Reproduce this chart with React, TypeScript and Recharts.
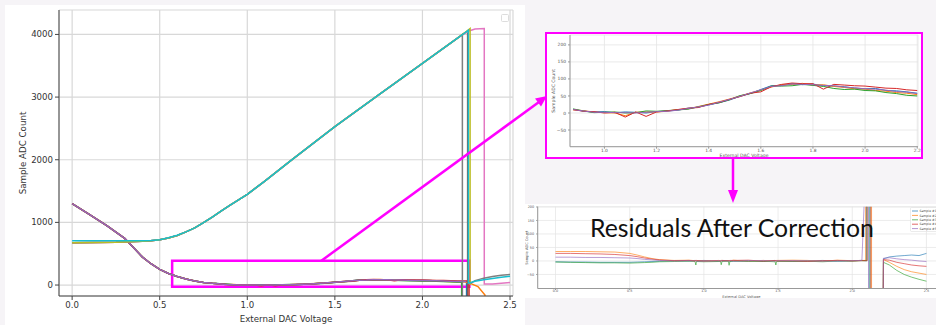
import React from 'react';
import { LineChart, Line, XAxis, YAxis, CartesianGrid, ReferenceArea, Label, Legend } from 'recharts';

const BLUE = '#1f77b4';
const ORANGE = '#ff7f0e';
const GREEN = '#2ca02c';
const RED = '#d62728';
const PURPLE = '#9467bd';
const BROWN = '#8c564b';
const PINK = '#e377c2';
const GRAY = '#7f7f7f';
const OLIVE = '#bcbd22';
const CYAN = '#17becf';
const MAGENTA = '#ff00ff';

// ---- main plot: rising ramps (shared shape up to 2.2 V)
const rampX = [0, 0.25, 0.4, 0.45, 0.5, 0.55, 0.6, 0.65, 0.7, 0.75, 0.8, 0.85, 0.9, 0.95, 1.0, 1.1, 1.25, 1.5, 1.75, 2.0, 2.2];
const rampLow = [676, 682, 700, 708, 722, 752, 792, 848, 912, 995, 1085, 1178, 1270, 1360, 1447, 1660, 1990, 2527, 3035, 3537, 3940];
const rampHigh = [706, 705, 706, 710, 724, 754, 794, 848, 912, 995, 1085, 1178, 1270, 1360, 1447, 1660, 1990, 2527, 3035, 3537, 3940];

const brownTailX = [2.25, 2.258, 2.258];
const brownTailY = [4040, 4052, -1000];
const pinkTailX = [2.25, 2.27, 2.3, 2.353, 2.353, 2.4, 2.45, 2.5];
const pinkTailY = [4030, 4060, 4088, 4094, 15, 18, 28, 40];
const grayTailX = [2.228, 2.228];
const grayTailY = [4000, -1000];
const grayAfterX = [2.27, 2.3, 2.35, 2.4, 2.45, 2.5];
const grayAfterY = [20, 70, 110, 135, 155, 170];
const oliveTailX = [2.25, 2.272, 2.272];
const oliveTailY = [4045, 4094, 0];
const cyanTailX = [2.25, 2.262, 2.262, 2.3, 2.35, 2.4, 2.45, 2.5];
const cyanTailY = [4040, 4065, 30, 60, 85, 105, 125, 140];

// ---- main plot: falling curves (shared head, per-sample detail)
const fallHeadX = [0, 0.1, 0.2, 0.3, 0.35, 0.4, 0.45, 0.5, 0.55, 0.6, 0.65, 0.7, 0.75, 0.8];
const fallHeadY = [1300, 1125, 945, 745, 600, 450, 340, 250, 185, 135, 95, 65, 42, 27];

const detailX = [0.88, 0.92, 0.96, 1.0, 1.04, 1.08, 1.12, 1.16, 1.2, 1.24, 1.28, 1.32, 1.36, 1.4, 1.44, 1.48, 1.52,
  1.56, 1.6, 1.64, 1.68, 1.72, 1.76, 1.8, 1.84, 1.88, 1.92, 1.96, 2.0, 2.04, 2.08, 2.12, 2.16, 2.2];
const blueDetail = [11, 5, 3, 4, 1, 3, 2, 0, 4, 6, 8, 14, 17, 24, 30, 38, 49, 57, 69, 80, 81, 86, 83, 85, 80, 79, 77, 73, 71, 72, 66, 65, 62, 58];
const orangeDetail = [9, 7, 2, 1, 0, -8, 2, 3, 3, 5, 10, 12, 19, 26, 33, 41, 50, 59, 67, 76, 83, 84, 87, 82, 83, 78, 75, 71, 70, 66, 64, 60, 58, 54];
const greenDetail = [12, 6, 1, 2, 3, 0, 1, 6, 5, 7, 9, 11, 18, 25, 30, 39, 51, 57, 66, 79, 79, 80, 84, 81, 78, 72, 69, 70, 66, 65, 60, 57, 52, 50];
const redDetail = [10, 5, 4, 0, 2, -12, 3, -10, 3, 6, 10, 14, 16, 25, 31, 40, 48, 58, 62, 77, 84, 88, 86, 86, 70, 84, 82, 80, 79, 76, 73, 72, 68, 66];
const purpleDetail = [10, 6, 2, 2, 1, 1, 0, 2, 4, 5, 8, 13, 18, 23, 32, 40, 49, 59, 68, 78, 80, 85, 84, 83, 81, 80, 76, 74, 71, 70, 67, 63, 61, 57];

const blueFallTailX = [2.252, 2.252];
const blueFallTailY = [56, -1000];
const orangeFallTailX = [2.24, 2.27, 2.317, 2.357, 2.36];
const orangeFallTailY = [52, 30, -25, -160, -1000];
const greenFallTailX = [2.224, 2.224];
const greenFallTailY = [48, -1000];
const redFallTailX = [2.266, 2.266];
const redFallTailY = [64, -1000];
const purpleFallTailX = [2.25];
const purpleFallTailY = [55];

// ---- residuals after correction
const resX = [0, 0.1, 0.2, 0.3, 0.4, 0.5, 0.55, 0.6, 0.65, 0.7, 0.8, 0.9, 0.94, 0.946, 0.95, 1.0, 1.1, 1.112, 1.117,
  1.122, 1.165, 1.17, 1.175, 1.2, 1.3, 1.4, 1.48, 1.485, 1.49, 1.6, 1.7, 1.8, 1.9, 2.0, 2.06];
const blueRes = [-3, -4, -4, -5, -5, -5, -4, -3, -2, -1, 1, 0, 2, 1, 0, 2, -1, 1, 0, 2, 1, 0, -1, 0, 1, -2, 2, 0, 1, -1, 0, 2, -1, 1, 2];
const orangeRes = [35, 35, 35, 34, 33, 28, 22, 15, 9, 5, 2, 3, 1, 2, 0, -1, 2, 1, 3, 0, 1, 2, 0, 3, -2, 2, 0, 1, 2, 3, 2, -1, 3, 1, 2];
const greenRes = [-4, -5, -6, -7, -7, -8, -7, -6, -5, -3, -2, -1, -2, -15, -2, -3, -2, -1, -14, -2, -1, -16, -2, -1, -2, -1, -3, -15, -2, -2, -1, -3, 0, -1, 1];
const redRes = [28, 28, 27, 26, 24, 20, 16, 11, 7, 4, 1, 2, 0, 1, 2, 0, 1, -1, 0, 2, 1, 0, 2, 2, 3, -1, 2, 1, 0, 0, -2, 1, 2, 0, 1];
const purpleRes = [14, 14, 13, 13, 12, 11, 9, 6, 4, 2, 0, 1, 0, 1, -1, -1, 1, 0, 1, 0, 0, -1, 1, -1, 0, 2, -1, 0, 1, 1, 1, -1, 0, 1, 2];

const blueResTailX = [2.095, 2.095, 2.114, 2.114, 2.2, 2.21, 2.25, 2.3, 2.35, 2.4, 2.45, 2.5];
const blueResTailY = [1, 1000, 1000, -1000, -1000, 8, 15, 18, 20, 22, 20, 28];
const orangeResTailX = [2.09, 2.09, 2.13, 2.13, 2.2, 2.21, 2.25, 2.3, 2.35, 2.4, 2.45, 2.5];
const orangeResTailY = [2, 1000, 1000, -1000, -1000, 5, -5, -20, -32, -40, -45, -50];
const greenResTailX = [2.1, 2.1, 2.12, 2.12, 2.2, 2.21, 2.25, 2.3, 2.35, 2.4, 2.45, 2.5];
const greenResTailY = [1, 1000, 1000, -1000, -1000, -5, -15, -35, -50, -60, -68, -75];
const redResTailX = [2.1, 2.1, 2.125, 2.125, 2.2, 2.21, 2.25, 2.3, 2.35, 2.4, 2.45, 2.5];
const redResTailY = [1, 1000, 1000, -1000, -1000, 5, 3, -5, -10, -15, -18, -20];
const purpleResTailX = [2.065, 2.08, 2.085, 2.11, 2.11, 2.2, 2.21, 2.25, 2.3, 2.35, 2.4, 2.45, 2.5];
const purpleResTailY = [2, 210, 1000, 1000, -1000, -1000, 10, 12, 8, 5, 3, 0, -2];

// ticks
const mainXTicks = [0, 0.5, 1.0, 1.5, 2.0, 2.5];
const mainYTicks = [0, 1000, 2000, 3000, 4000];
const insetXTicks = [1.0, 1.2, 1.4, 1.6, 1.8, 2.0, 2.2];
const insetYTicks = [-50, 0, 50, 100, 150, 200];
const resXTicks = [0, 0.5, 1.0, 1.5, 2.0, 2.5];
const resYTicks = [-50, 0, 50, 100, 150, 200];

type Pt = { x: number; y: number };
const pts = (xs: number[], ys: number[]): Pt[] => xs.map((x, i) => ({ x, y: ys[i] }));

const falling = [
  { color: BLUE, detail: blueDetail, tx: blueFallTailX, ty: blueFallTailY },
  { color: ORANGE, detail: orangeDetail, tx: orangeFallTailX, ty: orangeFallTailY },
  { color: GREEN, detail: greenDetail, tx: greenFallTailX, ty: greenFallTailY },
  { color: RED, detail: redDetail, tx: redFallTailX, ty: redFallTailY },
  { color: PURPLE, detail: purpleDetail, tx: purpleFallTailX, ty: purpleFallTailY },
];

const mainSeries = [
  ...falling.map((s) => ({
    color: s.color,
    data: [...pts(fallHeadX, fallHeadY), ...pts(detailX, s.detail), ...pts(s.tx, s.ty)],
  })),
  { color: BROWN, data: [...pts(rampX, rampLow), ...pts(brownTailX, brownTailY)] },
  { color: PINK, data: [...pts(rampX, rampLow), ...pts(pinkTailX, pinkTailY)] },
  { color: GRAY, data: [...pts(rampX, rampLow), ...pts(grayTailX, grayTailY)] },
  { color: GRAY, data: pts(grayAfterX, grayAfterY) },
  { color: OLIVE, data: [...pts(rampX, rampLow), ...pts(oliveTailX, oliveTailY)] },
  { color: CYAN, data: [...pts(rampX, rampHigh), ...pts(cyanTailX, cyanTailY)] },
];

const residualSeries = [
  { name: 'Sample #1', color: BLUE, data: [...pts(resX, blueRes), ...pts(blueResTailX, blueResTailY)] },
  { name: 'Sample #2', color: ORANGE, data: [...pts(resX, orangeRes), ...pts(orangeResTailX, orangeResTailY)] },
  { name: 'Sample #3', color: GREEN, data: [...pts(resX, greenRes), ...pts(greenResTailX, greenResTailY)] },
  { name: 'Sample #4', color: RED, data: [...pts(resX, redRes), ...pts(redResTailX, redResTailY)] },
  { name: 'Sample #5', color: PURPLE, data: [...pts(resX, purpleRes), ...pts(purpleResTailX, purpleResTailY)] },
];

const fmt1 = (v: number) => v.toFixed(1);
const fmtInt = (v: number) => (v < 0 ? '\u2212' + Math.abs(v) : String(v));

const ResidualLegend = (props: any) => {
  const payload = props.payload || [];
  return (
    <svg width={30} height={25} style={{ display: 'block' }}>
      <rect x={0.5} y={0.5} width={32} height={24} rx={1} fill="#fff" fillOpacity={0.85} stroke="#ddd" strokeWidth={0.6} />
      {payload.map((p: any, i: number) => (
        <g key={i}>
          <line x1={2} x2={8} y1={4 + i * 4.4} y2={4 + i * 4.4} stroke={p.color} strokeWidth={1} strokeOpacity={0.7} />
          <text x={9.5} y={5.2 + i * 4.4} fontSize={3.1} fill="#444">{p.value}</text>
        </g>
      ))}
    </svg>
  );
};

export default function App() {
  return (
    <div style={{ position: 'absolute', left: 0, top: 0, width: 936, height: 325, background: '#f6f4f7', overflow: 'hidden', fontFamily: '"DejaVu Sans", sans-serif' }}>
      {/* main chart panel */}
      <div style={{ position: 'absolute', left: 5, top: 5, width: 520, height: 320, background: '#fff' }}>
        <LineChart width={520} height={320} margin={{ top: 5, right: 12, bottom: 0, left: 0 }}>
          <CartesianGrid stroke="#d8d8d8" strokeWidth={1.2} />
          <XAxis dataKey="x" type="number" domain={[-0.075, 2.517]} allowDataOverflow ticks={mainXTicks} tickFormatter={fmt1}
            height={29} tickSize={4} tickMargin={2} stroke="#444" tick={{ fill: '#333', fontSize: 8.6 }} interval={0}>
            <Label value="External DAC Voltage" position="insideBottom" offset={3} style={{ fill: '#333', fontSize: 8.7 }} />
          </XAxis>
          <XAxis xAxisId="top" orientation="top" type="number" domain={[-0.075, 2.517]} allowDataOverflow height={0} tick={false} tickLine={false} stroke="#444" />
          <YAxis type="number" domain={[-175, 4390]} allowDataOverflow ticks={mainYTicks} width={54} tickSize={4} tickMargin={2}
            stroke="#444" tick={{ fill: '#333', fontSize: 8.6 }} interval={0}>
            <Label value="Sample ADC Count" angle={-90} position="insideLeft" offset={18} style={{ fill: '#333', fontSize: 8.7, textAnchor: 'middle' }} />
          </YAxis>
          <YAxis yAxisId="right" orientation="right" type="number" domain={[-175, 4390]} allowDataOverflow width={0} tick={false} tickLine={false} stroke="#444" />
          {mainSeries.map((s, i) => (
            <Line key={i} data={s.data} dataKey="y" type="linear" stroke={s.color} strokeWidth={1.5} dot={false} isAnimationActive={false} />
          ))}
          <ReferenceArea x1={0.571} x2={2.268} y1={-27} y2={388} stroke={MAGENTA} strokeWidth={2.5} fill="none" fillOpacity={0} ifOverflow="visible" />
        </LineChart>
        <div style={{ position: 'absolute', left: 496, top: 9, width: 6, height: 6, border: '1px solid #ddd', borderRadius: 1.5, background: '#fff' }} />
      </div>

      {/* zoomed inset */}
      <div style={{ position: 'absolute', left: 545, top: 32, width: 378, height: 127, boxSizing: 'border-box', border: `2px solid ${MAGENTA}`, background: '#fff' }}>
        <LineChart width={374} height={123} margin={{ top: 1, right: 3, bottom: 0, left: 0 }}>
          <CartesianGrid stroke="#e4e4e4" strokeWidth={0.8} />
          <XAxis dataKey="x" type="number" domain={[0.868, 2.203]} allowDataOverflow ticks={insetXTicks} tickFormatter={fmt1}
            height={10.3} tickSize={2} tickMargin={0} stroke="#999" tick={{ fill: '#555', fontSize: 4.4 }} interval={0}>
            <Label value="External DAC Voltage" position="insideBottom" offset={0.5} style={{ fill: '#555', fontSize: 4.6 }} />
          </XAxis>
          <YAxis type="number" domain={[-99, 229]} allowDataOverflow ticks={insetYTicks} tickFormatter={fmtInt} width={23}
            tickSize={2} tickMargin={2} stroke="#999" tick={{ fill: '#555', fontSize: 4.4 }} interval={0}>
            <Label value="Sample ADC Count" angle={-90} position="insideLeft" offset={6} style={{ fill: '#555', fontSize: 4.6, textAnchor: 'middle' }} />
          </YAxis>
          {falling.map((s, i) => (
            <Line key={i} data={pts(detailX, s.detail)} dataKey="y" type="linear" stroke={s.color} strokeWidth={1} dot={false} isAnimationActive={false} />
          ))}
        </LineChart>
      </div>

      {/* residuals panel (cropped on the right) */}
      <div style={{ position: 'absolute', left: 525, top: 204, width: 411, height: 94, background: '#fff', overflow: 'hidden' }}>
        <LineChart width={430} height={94} margin={{ top: 2.7, right: 10, bottom: 0, left: 0 }}>
          <CartesianGrid stroke="#e4e4e4" strokeWidth={0.7} />
          <XAxis dataKey="x" type="number" domain={[-0.12, 2.625]} allowDataOverflow ticks={resXTicks} tickFormatter={fmt1}
            height={9.5} tickSize={1.5} tickMargin={0} stroke="#999" tick={{ fill: '#555', fontSize: 3.4 }} interval={0}>
            <Label value="External DAC Voltage" position="insideBottom" offset={0} style={{ fill: '#555', fontSize: 3.6 }} />
          </XAxis>
          <YAxis type="number" domain={[-102, 201]} allowDataOverflow ticks={resYTicks} tickFormatter={fmtInt} width={12.7}
            tickSize={1.5} tickMargin={2} stroke="#999" tick={{ fill: '#555', fontSize: 3.4 }} interval={0}>
            <Label value="Sample ADC Count" angle={-90} position="insideLeft" offset={2} style={{ fill: '#555', fontSize: 3.6, textAnchor: 'middle' }} />
          </YAxis>
          {residualSeries.map((s) => (
            <Line key={s.name} name={s.name} data={s.data} dataKey="y" type="linear" stroke={s.color} strokeWidth={0.8} strokeOpacity={0.8} dot={false} isAnimationActive={false} />
          ))}
          <Legend layout="vertical" align="center" verticalAlign="middle" content={<ResidualLegend />}
            wrapperStyle={{ position: 'absolute', left: 385, top: 3, width: 30, height: 25 }} />
        </LineChart>
      </div>

      {/* annotations */}
      <svg width={936} height={325} style={{ position: 'absolute', left: 0, top: 0, pointerEvents: 'none' }}>
        <text x={590} y={237} fontSize={24.8} fontFamily="Lato, sans-serif" fill="#111">Residuals After Correction</text>
        <line x1={321} y1={261} x2={539} y2={102} stroke={MAGENTA} strokeWidth={2.5} />
        <polygon points="547,96 541,106.5 535,98.5" fill={MAGENTA} />
        <line x1={733} y1={159} x2={733} y2={192} stroke={MAGENTA} strokeWidth={2.5} />
        <polygon points="728,190 738,190 733,203" fill={MAGENTA} />
      </svg>
    </div>
  );
}
